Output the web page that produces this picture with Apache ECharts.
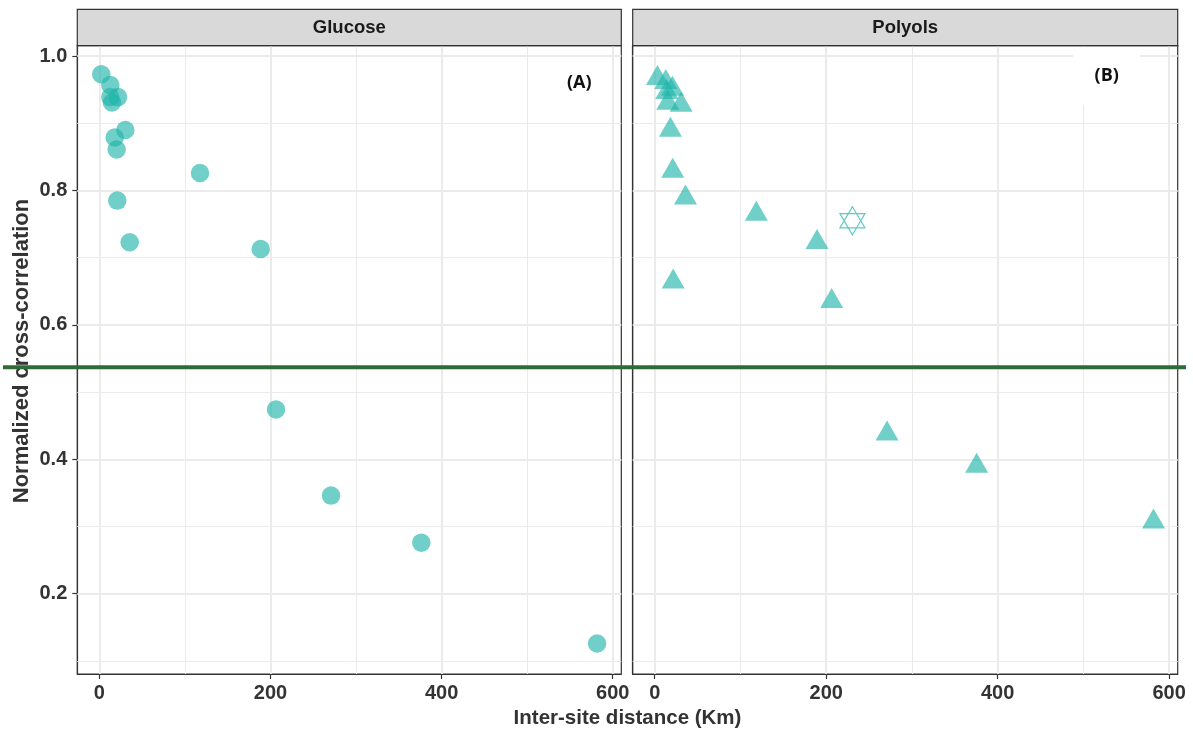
<!DOCTYPE html>
<html><head><meta charset="utf-8">
<script src="https://cdn.jsdelivr.net/npm/echarts@6/dist/echarts.min.js"></script>
<style>html,body{margin:0;padding:0;background:#fff}#c{width:1193px;height:731px}</style>
</head><body><div id="c"></div>
<script>
// ---------- data ----------
const panels = ['Glucose', 'Polyols'];
const panelTags = ['(A)', '(B)'];
const glucoseDist = [2.3, 12.9, 12.9, 21.9, 14.8, 30.4, 18.0, 20.3, 117.7, 21.0, 35.5, 188.6, 206.5, 270.8, 376.3, 581.7];
const glucoseCorr = [0.973, 0.957, 0.939, 0.939, 0.931, 0.890, 0.879, 0.861, 0.826, 0.785, 0.723, 0.713, 0.474, 0.346, 0.276, 0.126];
const polyolDist = [3.2, 12.9, 20.7, 14.0, 15.2, 30.8, 18.3, 21.0, 35.9, 118.5, 189.3, 21.5, 206.4, 271.0, 375.5, 581.8];
const polyolCorr = [0.967, 0.961, 0.951, 0.946, 0.930, 0.927, 0.890, 0.829, 0.789, 0.765, 0.723, 0.664, 0.635, 0.438, 0.390, 0.307];
const starDist = [230.6];
const starCorr = [0.755];
const threshold = 0.537;
const xTicks = [0, 200, 400, 600];
const xMinor = [100, 300, 500];
const yTicks = [0.2, 0.4, 0.6, 0.8, 1.0];
const yMinor = [0.1, 0.3, 0.5, 0.7, 0.9];
const xRange = [-25.7, 610];
const yRange = [0.0805, 1.0155];

// ---------- styling / layout ----------
const teal = 'rgba(31,180,169,0.8)';
const tealLine = 'rgba(31,180,169,0.9)';
const FONT = '"Liberation Sans", Arial, sans-serif';
const TXT = '#333333';
const grids = [
  { left: 77.3, top: 45.7, width: 544, height: 628.3 },
  { left: 632.7, top: 45.7, width: 545, height: 628.3 }
];

function zip(a, b) { return a.map((v, i) => [v, b[i]]); }

function gridSeries(i) {
  const d = [];
  yTicks.forEach(v => d.push({ yAxis: v, lineStyle: { width: 2 } }));
  yMinor.forEach(v => d.push({ yAxis: v, lineStyle: { width: 1 } }));
  xTicks.forEach(v => d.push({ xAxis: v, lineStyle: { width: 2 } }));
  xMinor.forEach(v => d.push({ xAxis: v, lineStyle: { width: 1 } }));
  return {
    type: 'scatter', xAxisIndex: i, yAxisIndex: i, data: [], z: 1, silent: true,
    markLine: {
      silent: true, symbol: ['none', 'none'], label: { show: false }, animation: false,
      lineStyle: { color: '#EBEBEB', type: 'solid' }, emphasis: { disabled: true },
      data: d
    }
  };
}

const xAxes = grids.map((g, i) => ({
  type: 'value', gridIndex: i, min: xRange[0], max: xRange[1],
  axisLine: { show: true, onZero: false, lineStyle: { color: '#333', width: 1.2 } },
  splitLine: { show: false },
  axisTick: { show: true, inside: false, customValues: xTicks, length: 5, lineStyle: { color: '#333', width: 1.2 } },
  axisLabel: { customValues: xTicks, color: TXT, fontFamily: FONT, fontWeight: 'bold', fontSize: 20, margin: 9,
    formatter: v => String(v) }
}));
const yAxes = grids.map((g, i) => ({
  type: 'value', gridIndex: i, min: yRange[0], max: yRange[1],
  axisLine: { show: true, onZero: false, lineStyle: { color: '#333', width: 1.2 } },
  splitLine: { show: false },
  axisTick: { show: i === 0, inside: false, customValues: yTicks, length: 5, lineStyle: { color: '#333', width: 1.2 } },
  axisLabel: { show: i === 0, customValues: yTicks, color: TXT, fontFamily: FONT, fontWeight: 'bold', fontSize: 20, margin: 10,
    formatter: v => v.toFixed(1) }
}));

const chart = echarts.init(document.getElementById('c'), null, { renderer: 'canvas' });

function graphics(yLine) {
  const g = [];
  grids.forEach((gr, i) => {
    g.push({ type: 'rect', id: 'strip' + i, z: 40, shape: { x: gr.left, y: 9.3, width: gr.width, height: 36.4 },
      style: { fill: '#D9D9D9', stroke: '#333', lineWidth: 1.2 } });
    g.push({ type: 'text', id: 'striptxt' + i, z: 41, x: gr.left + gr.width / 2, y: 28,
      style: { text: panels[i], font: 'bold 18.5px ' + FONT, fill: '#1A1A1A', align: 'center', verticalAlign: 'middle' } });
  });
  g.push({ type: 'rect', id: 'tagbg', z: 40, shape: { x: 1073, y: 47, width: 67, height: 58 }, style: { fill: '#fff' } });
  g.push({ type: 'text', id: 'tagA', z: 41, x: 579.3, y: 83,
    style: { text: panelTags[0], font: 'bold 18px "Open Sans", sans-serif', fill: '#111', align: 'center', verticalAlign: 'middle' } });
  g.push({ type: 'text', id: 'tagB', z: 41, x: 1106.7, y: 76,
    style: { text: panelTags[1], font: 'bold 18px "Open Sans", sans-serif', fill: '#111', align: 'center', verticalAlign: 'middle' } });
  g.push({ type: 'text', id: 'xtitle', z: 41, x: (grids[0].left + grids[1].left + grids[1].width) / 2, y: 718,
    style: { text: 'Inter-site distance (Km)', font: 'bold 20.5px ' + FONT, fill: TXT, align: 'center', verticalAlign: 'middle' } });
  g.push({ type: 'text', id: 'ytitle', z: 41, x: 22, y: 351, rotation: Math.PI / 2,
    style: { text: 'Normalized cross-correlation', font: 'bold 22px ' + FONT, fill: TXT, align: 'center', verticalAlign: 'middle' } });
  if (yLine != null) {
    g.push({ type: 'line', id: 'thr', z: 60, shape: { x1: 3, y1: yLine, x2: 1186, y2: yLine },
      style: { stroke: '#2F6A38', lineWidth: 4 } });
  }
  return g;
}

const triH = 20;
chart.setOption({
  animation: false,
  backgroundColor: '#fff',
  grid: grids.map(g => Object.assign({ show: true, borderColor: '#333', borderWidth: 1.2, backgroundColor: '#fff', containLabel: false }, g)),
  xAxis: xAxes,
  yAxis: yAxes,
  series: [
    gridSeries(0), gridSeries(1),
    { type: 'scatter', name: panels[0], xAxisIndex: 0, yAxisIndex: 0, z: 5, symbol: 'circle', symbolSize: 18.5,
      itemStyle: { color: teal }, emphasis: { disabled: true }, data: zip(glucoseDist, glucoseCorr) },
    { type: 'scatter', name: panels[1], xAxisIndex: 1, yAxisIndex: 1, z: 5, symbol: 'triangle', symbolSize: [23, triH],
      symbolOffset: [0, -triH / 6], itemStyle: { color: teal }, emphasis: { disabled: true }, data: zip(polyolDist, polyolCorr) },
    { type: 'scatter', name: 'star', xAxisIndex: 1, yAxisIndex: 1, z: 5,
      symbol: 'path://M0,0 L12,20.8 L-12,20.8 Z M0,27.7 L12,6.9 L-12,6.9 Z', symbolSize: [25, 28], symbolKeepAspect: false,
      itemStyle: { color: 'none', borderColor: tealLine, borderWidth: 1.2 }, emphasis: { disabled: true },
      data: zip(starDist, starCorr) }
  ],
  graphic: graphics(null)
});
const yPix = chart.convertToPixel({ yAxisIndex: 0 }, threshold);
chart.setOption({ graphic: graphics(yPix) });
</script>
</body></html>
